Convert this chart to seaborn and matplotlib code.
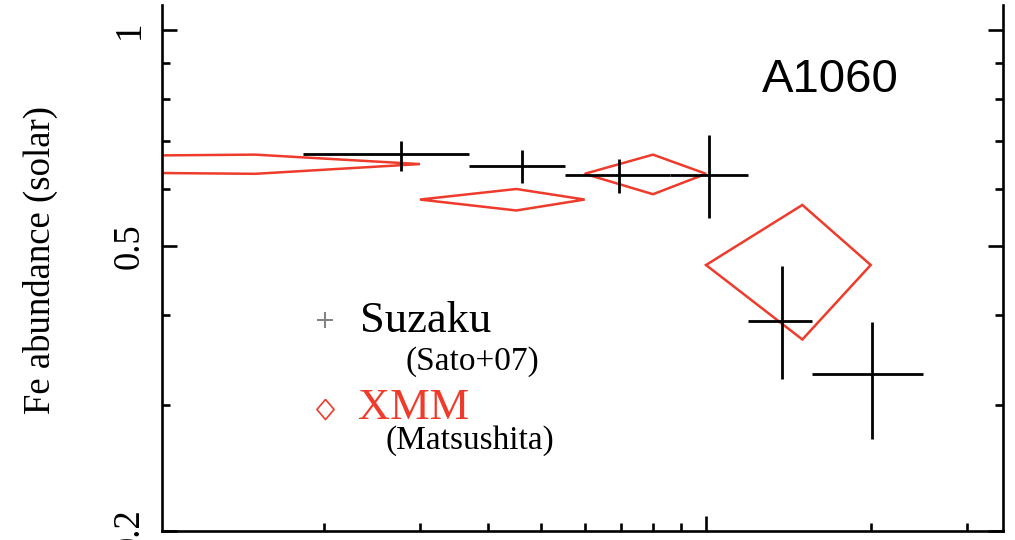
import numpy as np
import matplotlib
matplotlib.use("Agg")
import matplotlib.pyplot as plt
from matplotlib.patches import Polygon
from matplotlib.ticker import FixedLocator, NullFormatter
import seaborn as sns

# Suzaku radial Fe profile (Sato+07): bin centres, bin edges, value and 1-sigma range
suzaku_r = [2.77, 4.60, 6.92, 10.13, 13.79, 20.14]
suzaku_r_lo = [1.83, 3.69, 5.52, 8.59, 11.93, 15.6]
suzaku_r_hi = [3.69, 5.52, 8.59, 11.93, 15.6, 24.9]
suzaku_fe = [0.671, 0.645, 0.627, 0.627, 0.393, 0.331]
suzaku_fe_lo = [0.636, 0.611, 0.593, 0.547, 0.326, 0.269]
suzaku_fe_hi = [0.701, 0.679, 0.660, 0.714, 0.469, 0.391]

# XMM radial Fe profile (Matsushita): bin centres, half widths, value and error
xmm_r = [1.5, 4.5, 8.0, 15.0]
xmm_r_err = [1.5, 1.5, 2.0, 5.0]
xmm_fe = [0.65, 0.58, 0.63, 0.47]
xmm_fe_err = [0.02, 0.02, 0.04, 0.10]

y_major = [0.2, 0.5, 1.0]
y_major_labels = ["0.2", "0.5", "1"]
y_minor = [0.3, 0.4, 0.6, 0.7, 0.8, 0.9]
x_major = [10]
x_minor = [2, 3, 4, 5, 6, 7, 8, 9, 20, 30]

RED = "#ee3b2b"

sns.set_theme(style="ticks")
plt.rcParams["font.family"] = ["Liberation Serif", "DejaVu Serif"]
plt.rcParams["axes.linewidth"] = 1.8

W, H = 1015, 540
fig = plt.figure(figsize=(W / 100, H / 100), dpi=100)
fig.patch.set_facecolor("white")
ax = fig.add_axes([162 / W, 9 / H, 841 / W, 526 / H])
ax.set_facecolor("white")
ax.set_xscale("log")
ax.set_yscale("log")

# Suzaku crosses
r = np.array(suzaku_r)
fe = np.array(suzaku_fe)
xerr = [r - np.array(suzaku_r_lo), np.array(suzaku_r_hi) - r]
yerr = [fe - np.array(suzaku_fe_lo), np.array(suzaku_fe_hi) - fe]
ax.errorbar(r, fe, xerr=xerr, yerr=yerr, fmt="none", ecolor="black",
            elinewidth=2.0, capsize=0, zorder=3)

# XMM diamonds: corners at the x and y error limits
floor = 0.01
for xc, xe, yc, ye in zip(xmm_r, xmm_r_err, xmm_fe, xmm_fe_err):
    verts = [(max(xc - xe, floor), yc), (xc, yc + ye), (xc + xe, yc), (xc, yc - ye)]
    ax.add_patch(Polygon(verts, closed=True, fill=False, edgecolor=RED,
                         linewidth=1.8, joinstyle="miter", zorder=2))

ax.set_xlim(1.013, 34.9)
ax.set_ylim(0.2, 1.0835)

# Axes frame and ticks
ax.spines["top"].set_visible(False)
for s in ("left", "right", "bottom"):
    ax.spines[s].set_color("black")
    ax.spines[s].set_linewidth(1.9)

ax.yaxis.set_major_locator(FixedLocator(y_major))
ax.yaxis.set_minor_locator(FixedLocator(y_minor))
ax.set_yticklabels(y_major_labels)
ax.yaxis.set_minor_formatter(NullFormatter())
ax.xaxis.set_major_locator(FixedLocator(x_major))
ax.xaxis.set_minor_locator(FixedLocator(x_minor))
ax.xaxis.set_major_formatter(NullFormatter())
ax.xaxis.set_minor_formatter(NullFormatter())

ax.tick_params(which="both", direction="in", top=False, right=True, left=True,
               bottom=True, width=1.9, color="black")
ax.tick_params(which="major", length=11)
ax.tick_params(which="minor", length=6)
ax.tick_params(axis="y", which="major", labelsize=26.5, pad=11, labelrotation=90,
               labelcolor="black")
for t in ax.yaxis.get_major_ticks():
    t.label1.set_va("center")

ax.set_ylabel("Fe abundance (solar)", fontsize=26.5, color="black")
ax.yaxis.set_label_coords(-0.1237, 0.5146)

# Key
ax.plot([0.1938], [0.4009], marker="+", ms=12, mew=1.4, color="#808080",
        transform=ax.transAxes, clip_on=False, linestyle="none")
diamond = [(0, 1), (0.85, 0), (0, -1), (-0.85, 0), (0, 1)]
ax.plot([0.1938], [0.2312], marker=diamond, ms=14.5, mew=1.2, mfc="none",
        mec=RED, transform=ax.transAxes, clip_on=False, linestyle="none")
ax.text(0.2354, 0.378, "Suzaku", fontsize=32, color="black",
        transform=ax.transAxes, ha="left", va="baseline")
ax.text(0.2901, 0.3058, "(Sato+07)", fontsize=24, color="black",
        transform=ax.transAxes, ha="left", va="baseline")
ax.text(0.2331, 0.212, "XMM", fontsize=32, color=RED,
        transform=ax.transAxes, ha="left", va="baseline")
ax.text(0.2663, 0.1566, "(Matsushita)", fontsize=24, color="black",
        transform=ax.transAxes, ha="left", va="baseline")

ax.text(0.7131, 0.8348, "A1060", fontsize=34, color="black",
        family="Liberation Sans", transform=ax.transAxes,
        ha="left", va="baseline")

fig.savefig("out.png", dpi=100, facecolor="white")
